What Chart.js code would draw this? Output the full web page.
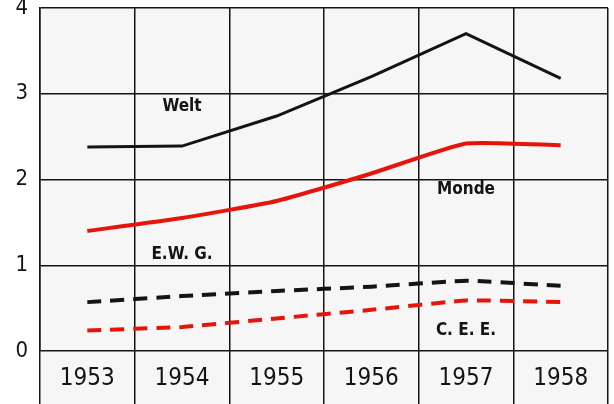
<!DOCTYPE html>
<html>
<head>
<meta charset="utf-8">
<script src="https://cdn.jsdelivr.net/npm/chart.js@4"></script>
<style>
  html, body { margin: 0; padding: 0; background: #fff; }
  canvas { display: block; }
</style>
</head>
<body>
<canvas id="chart" width="614" height="404"></canvas>
<script>
// Jahre / années
const years = ['1953', '1954', '1955', '1956', '1957', '1958'];
const yTicks = [0, 1, 2, 3, 4];

// Welt / Monde
const welt = [2.38, 2.39, 2.74, 3.2, 3.7, 3.18];
const monde = [1.4, 1.55, 1.75, 2.07, 2.42, 2.4];
// E.W.G. / C.E.E.
const ewg = [0.57, 0.64, 0.7, 0.75, 0.82, 0.76];
const cee = [0.24, 0.28, 0.38, 0.48, 0.59, 0.57];

// text labels: [text, category index, value]
const seriesLabels = [
  ['Welt', 1, 2.85],
  ['Monde', 4, 1.88],
  ['E.W. G.', 1, 1.13],
  ['C. E. E.', 4, 0.24]
];

const RED = '#e5150c';
const INK = '#141414';
const FONT = "'Liberation Sans Narrow', 'DejaVu Sans Condensed', 'Liberation Sans', sans-serif";

const panelBg = {
  id: 'panelBg',
  beforeDraw(chart) {
    const { ctx, chartArea } = chart;
    ctx.save();
    ctx.fillStyle = '#f6f6f6';
    ctx.fillRect(chartArea.left, chartArea.top, chartArea.right - chartArea.left, chart.height - chartArea.top);
    ctx.restore();
  }
};

const lineLabels = {
  id: 'lineLabels',
  afterDatasetsDraw(chart) {
    const { ctx, scales } = chart;
    ctx.save();
    ctx.fillStyle = INK;
    ctx.font = 'bold 17px ' + FONT;
    ctx.textAlign = 'center';
    ctx.textBaseline = 'middle';
    seriesLabels.forEach(([txt, i, v]) => {
      ctx.fillText(txt, scales.x.getPixelForValue(i), scales.y.getPixelForValue(v));
    });
    ctx.restore();
  }
};

new Chart(document.getElementById('chart'), {
  type: 'line',
  data: {
    labels: years,
    datasets: [
      { data: welt, borderColor: INK, borderWidth: 3, tension: 0 },
      { data: monde, borderColor: RED, borderWidth: 4, tension: 0.15 },
      { data: ewg, borderColor: INK, borderWidth: 4, borderDash: [14, 9], tension: 0.1 },
      { data: cee, borderColor: RED, borderWidth: 4, borderDash: [14, 9], tension: 0.1 }
    ]
  },
  options: {
    responsive: false,
    animation: false,
    layout: { autoPadding: false, padding: { top: 8, right: 6, left: 0, bottom: 0 } },
    elements: { point: { radius: 0 } },
    plugins: { legend: { display: false }, tooltip: { enabled: false } },
    scales: {
      x: {
        offset: true,
        grid: {
          offset: true,
          color: INK,
          lineWidth: 1.5,
          tickLength: 53,
          tickColor: INK,
          tickWidth: 1.5
        },
        border: { display: false },
        ticks: {
          color: INK,
          padding: -40,
          font: { family: FONT, size: 24 }
        },
        afterFit(axis) { axis.height = 53; }
      },
      y: {
        min: 0,
        max: 4,
        afterBuildTicks(axis) { axis.ticks = yTicks.map(v => ({ value: v })); },
        grid: { color: INK, lineWidth: 1.5, drawTicks: false },
        border: { display: true, color: INK, width: 1.5 },
        ticks: {
          color: INK,
          padding: 12,
          font: { family: FONT, size: 22, lineHeight: 0.2 }
        },
        afterFit(axis) { axis.width = 40; axis.paddingTop = 0; axis.paddingBottom = 0; }
      }
    }
  },
  plugins: [panelBg, lineLabels]
});
</script>
</body>
</html>
